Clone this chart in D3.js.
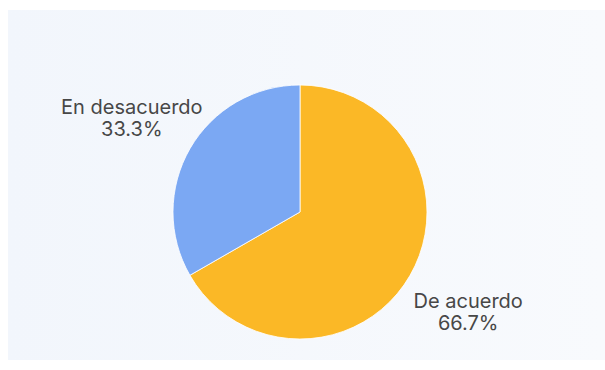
<!DOCTYPE html>
<html>
<head>
<meta charset="utf-8">
<script src="https://cdn.jsdelivr.net/npm/d3@7/dist/d3.min.js"></script>
<style>
  html, body { margin: 0; padding: 0; background: #ffffff; }
  svg { display: block; }
</style>
</head>
<body>
<svg id="chart" width="605" height="370"></svg>
<script>
// Survey answers and their shares
const categories = ["De acuerdo", "En desacuerdo"];
const values = [66.7, 33.3];
const colors = ["#fbb826", "#7ba8f3"];

const width = 605, height = 370;
const cx = 300, cy = 212, radius = 127;

const svg = d3.select("#chart");

// Panel background with a faint left-to-right fade
const defs = svg.append("defs");
const grad = defs.append("linearGradient").attr("id", "panelBg")
  .attr("x1", "0%").attr("x2", "100%").attr("y1", "0%").attr("y2", "0%");
grad.append("stop").attr("offset", "0%").attr("stop-color", "#f2f6fc");
grad.append("stop").attr("offset", "100%").attr("stop-color", "#f8fafd");

svg.append("rect")
  .attr("x", 8).attr("y", 10)
  .attr("width", 597).attr("height", 350)
  .attr("fill", "url(#panelBg)");

const data = categories.map((c, i) => ({ label: c, value: values[i], color: colors[i] }));

const pie = d3.pie().value(d => d.value).sort(null);
const arcs = pie(data);

const arc = d3.arc().innerRadius(0).outerRadius(radius);
const labelArc = d3.arc().innerRadius(radius * 1.53).outerRadius(radius * 1.53);

const g = svg.append("g").attr("transform", `translate(${cx},${cy})`);

g.selectAll("path.slice")
  .data(arcs)
  .join("path")
  .attr("class", "slice")
  .attr("d", arc)
  .attr("fill", d => d.data.color)
  .attr("stroke", "#ffffff")
  .attr("stroke-width", 0.8);

const fmt = d3.format(".1f");

const labels = g.selectAll("text.label")
  .data(arcs)
  .join("text")
  .attr("class", "label")
  .attr("transform", d => `translate(${labelArc.centroid(d)})`)
  .attr("text-anchor", "middle")
  .attr("font-family", "Inter, 'Noto Sans', sans-serif")
  .attr("font-size", 20)
  .attr("fill", "#474747");

labels.append("tspan")
  .attr("x", 0).attr("dy", -1)
  .text(d => d.data.label);

labels.append("tspan")
  .attr("x", 0).attr("dy", 22)
  .text(d => fmt(d.data.value) + "%");
</script>
</body>
</html>
